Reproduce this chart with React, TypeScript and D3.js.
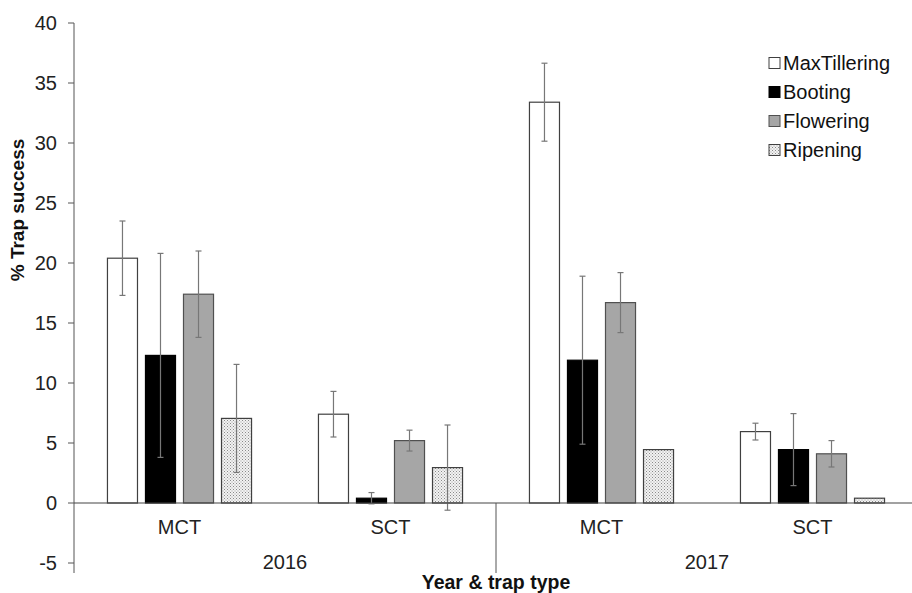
import React from 'react';
import * as d3 from 'd3';

const categories = ['2016 MCT', '2016 SCT', '2017 MCT', '2017 SCT'];
const catLabels = ['MCT', 'SCT', 'MCT', 'SCT'];
const years = ['2016', '2017'];
const series = ['MaxTillering', 'Booting', 'Flowering', 'Ripening'];

const maxTillering = [20.4, 7.4, 33.4, 5.95];
const booting = [12.3, 0.4, 11.9, 4.45];
const flowering = [17.4, 5.2, 16.7, 4.1];
const ripening = [7.05, 2.95, 4.45, 0.4];

const maxTilleringErr = [3.1, 1.9, 3.25, 0.7];
const bootingErr = [8.5, 0.47, 7.0, 3.0];
const floweringErr = [3.6, 0.87, 2.5, 1.1];
const ripeningErr = [4.5, 3.55, 0, 0];

const yTicks = [-5, 0, 5, 10, 15, 20, 25, 30, 35, 40];

const values = [maxTillering, booting, flowering, ripening];
const errors = [maxTilleringErr, bootingErr, floweringErr, ripeningErr];

const fills = ['#ffffff', '#000000', '#a6a6a6', 'url(#dots)'];
const strokes = ['#404040', '#000000', '#505050', '#404040'];

const W = 912;
const H = 593;
const font = 'Liberation Sans, Arial, sans-serif';

export default function App() {
  const x0 = d3.scaleBand().domain(categories).range([74, 918]);
  const x1 = d3
    .scaleBand()
    .domain(series)
    .range([0, x0.bandwidth()])
    .paddingInner(0.21)
    .paddingOuter(0.88);
  const y = d3.scaleLinear().domain([-5, 40]).range([563, 23]);
  const y0 = y(0);

  return (
    <svg width={W} height={H} style={{ position: 'absolute', left: 0, top: 0 }}>
      <defs>
        <pattern id="dots" width="3" height="3" patternUnits="userSpaceOnUse">
          <rect width="3" height="3" fill="#f2f2f2" />
          <rect x="0" y="0" width="1" height="1" fill="#8a8a8a" />
          <rect x="1.5" y="1.5" width="1" height="1" fill="#a0a0a0" />
        </pattern>
      </defs>
      <rect width={W} height={H} fill="#fff" />

      {/* y axis */}
      <line x1={74} x2={74} y1={y(40)} y2={573} stroke="#555" strokeWidth={1} />
      {yTicks.map((t) => (
        <g key={t}>
          <line x1={68} x2={74} y1={y(t)} y2={y(t)} stroke="#555" />
          <text
            x={57}
            y={y(t)}
            dy="0.35em"
            textAnchor="end"
            fontFamily={font}
            fontSize={20}
            fill="#222"
          >
            {t}
          </text>
        </g>
      ))}
      <text
        transform={`translate(24,210) rotate(-90)`}
        textAnchor="middle"
        fontFamily={font}
        fontSize={19}
        fontWeight="bold"
        fill="#111"
      >
        % Trap success
      </text>

      {/* bars */}
      {categories.map((c, ci) => (
        <g key={c} transform={`translate(${x0(c)},0)`}>
          {series.map((s, si) => {
            const v = values[si][ci];
            const e = errors[si][ci];
            const bx = x1(s) as number;
            const bw = x1.bandwidth();
            const cx = bx + bw / 2;
            return (
              <g key={s}>
                <rect
                  x={bx}
                  y={y(v)}
                  width={bw}
                  height={y0 - y(v)}
                  fill={fills[si]}
                  stroke={strokes[si]}
                  strokeWidth={1.2}
                />
                {e > 0 && (
                  <g stroke="#777" strokeWidth={1.2}>
                    <line x1={cx} x2={cx} y1={y(v + e)} y2={y(v - e)} />
                    <line x1={cx - 3} x2={cx + 3} y1={y(v + e)} y2={y(v + e)} />
                    <line x1={cx - 3} x2={cx + 3} y1={y(v - e)} y2={y(v - e)} />
                  </g>
                )}
              </g>
            );
          })}
        </g>
      ))}

      {/* x axis */}
      <line x1={74} x2={W} y1={y0} y2={y0} stroke="#444" strokeWidth={1.2} />
      <line
        x1={x0(categories[2]) as number}
        x2={x0(categories[2]) as number}
        y1={y0}
        y2={573}
        stroke="#555"
      />
      {categories.map((c, ci) => (
        <text
          key={c}
          x={(x0(c) as number) + x0.bandwidth() / 2}
          y={534}
          textAnchor="middle"
          fontFamily={font}
          fontSize={20}
          fill="#222"
        >
          {catLabels[ci]}
        </text>
      ))}
      {years.map((yr, i) => (
        <text
          key={yr}
          x={(x0(categories[i * 2 + 1]) as number)}
          y={569}
          textAnchor="middle"
          fontFamily={font}
          fontSize={20}
          fill="#222"
        >
          {yr}
        </text>
      ))}
      <text
        x={x0(categories[2]) as number}
        y={589}
        textAnchor="middle"
        fontFamily={font}
        fontSize={19.5}
        fontWeight="bold"
        fill="#111"
      >
        Year &amp; trap type
      </text>

      {/* legend */}
      {series.map((s, si) => (
        <g key={s} transform={`translate(769,${63 + si * 29})`}>
          <rect
            x={0}
            y={-5.5}
            width={11}
            height={11}
            fill={fills[si]}
            stroke={strokes[si]}
            strokeWidth={1}
          />
          <text x={14} y={0} dy="0.35em" fontFamily={font} fontSize={20} fill="#111">
            {s}
          </text>
        </g>
      ))}
    </svg>
  );
}
